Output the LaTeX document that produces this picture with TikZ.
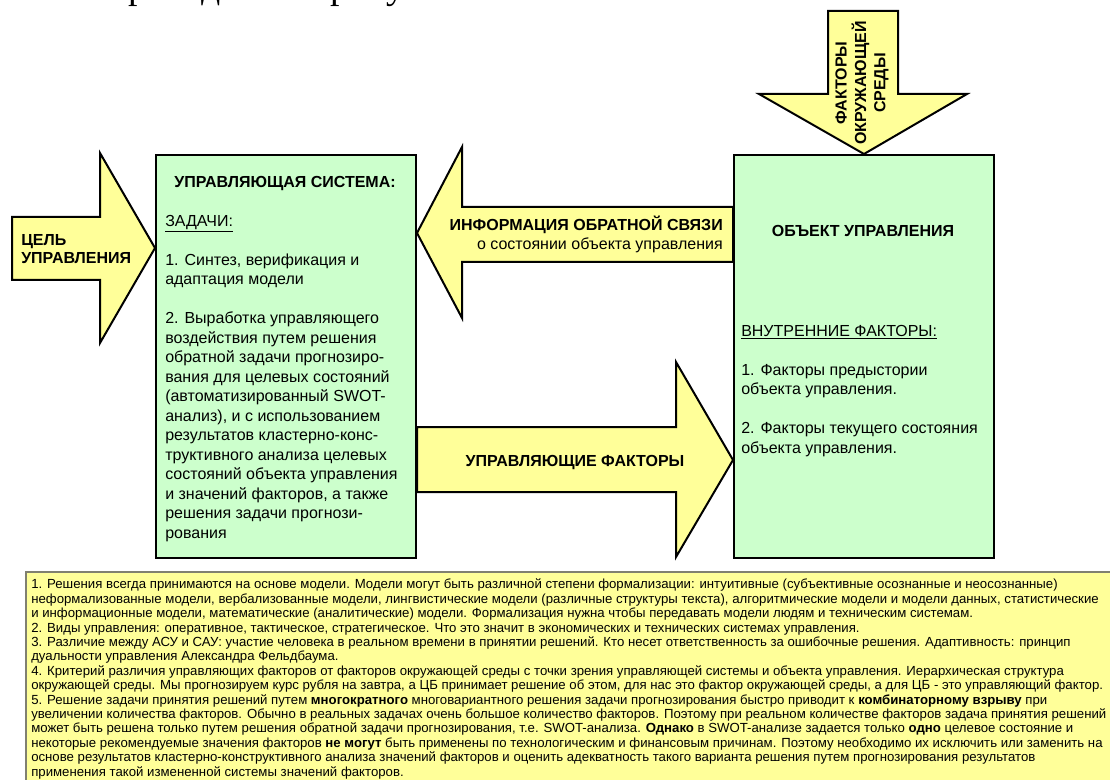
\documentclass[tikz,border=0pt]{standalone}
\usepackage{fontspec}
\setmainfont{Liberation Sans}
\newfontfamily\pageserif{Liberation Serif}
\usetikzlibrary{positioning}

\definecolor{boxgreen}{RGB}{204,255,204}
\definecolor{arrowyellow}{RGB}{255,255,153}
\definecolor{noteedge}{RGB}{128,128,112}

\tikzset{
  block/.style={draw, line width=1.5pt, fill=boxgreen, inner sep=0pt,
    minimum width=195pt, minimum height=302pt, anchor=north west},
  bigarrow/.style={draw, line width=1.5pt, fill=arrowyellow, line join=miter},
  boxtitle/.style={inner sep=0pt, font=\bfseries\fontsize{12}{14.6}\selectfont},
  boxtext/.style={align=left, inner sep=0pt, font=\fontsize{12}{14.6}\selectfont},
  notebox/.style={draw=noteedge, line width=1pt, fill=arrowyellow},
}

\begin{document}
\begin{tikzpicture}[x=0.75pt, y=-0.75pt]
	\useasboundingbox (0,0) rectangle (1110,780);
	\clip (0,0) rectangle (1110,780);
	
	% last line of the page above, only its tail shows
	\node[anchor=base west, inner sep=0pt, font=\pageserif\fontsize{28.4}{30}\selectfont] (pageline) at (108,-1) {приведена на рисунке};
	
	\node[block] (sys) at (155,154) {};
	\node[block] (obj) at (733,154) {};
	
	\draw[bigarrow] (12,217) -- (100,217) -- (100,153) -- (sys.west |- 0,248) -- (100,343) -- (100,280) -- (12,280) -- cycle;
	\draw[bigarrow] (obj.west |- 0,207) -- (462,207) -- (462,147) -- (sys.east |- 0,233) -- (462,318) -- (462,262) -- (obj.west |- 0,262) -- cycle;
	\draw[bigarrow] (sys.east |- 0,427) -- (676,427) -- (676,362) -- (obj.west |- 0,460) -- (676,557) -- (676,492) -- (sys.east |- 0,492) -- cycle;
	\draw[bigarrow] (828,11) -- (898,11) -- (898,94) -- (967,94) -- (obj.north |- 0,154) -- (759,94) -- (828,94) -- cycle;
	
	\node[boxtitle, align=left, anchor=base west, font=\bfseries\fontsize{12}{13.5}\selectfont] (goal) at (21,264) {ЦЕЛЬ\\УПРАВЛЕНИЯ};
	\node[boxtitle, align=center, rotate=90] (environment) at (862,83) {ФАКТОРЫ\\ОКРУЖАЮЩЕЙ\\СРЕДЫ};
	\node[boxtext, align=right, anchor=base east] (feedback) at (723,250) {\textbf{ИНФОРМАЦИЯ ОБРАТНОЙ СВЯЗИ}\\о состоянии объекта управления};
	\node[boxtitle, anchor=base] (control) at (575,466) {УПРАВЛЯЮЩИЕ ФАКТОРЫ};
	
	\node[boxtitle, anchor=base] (systitle) at (285,188) {УПРАВЛЯЮЩАЯ СИСТЕМА:};
	\node[boxtext, anchor=base west] (systasks) at (165,538) {\underline{ЗАДАЧИ:}\\[14.6pt]
		1. Синтез, верификация и\\
		адаптация модели\\[14.6pt]
		2. Выработка управляющего\\
		воздействия путем решения\\
		обратной задачи прогнозиро-\\
		вания для целевых состояний\\
		(автоматизированный SWOT-\\
		анализ), и с использованием\\
		результатов кластерно-конс-\\
		труктивного анализа целевых\\
		состояний объекта управления\\
		и значений факторов, а также\\
		решения задачи прогнози-\\
		рования};
	
	\node[boxtitle, anchor=base] (objtitle) at (863,237) {ОБЪЕКТ УПРАВЛЕНИЯ};
	\node[boxtext, anchor=base west] (objfactors) at (741,453) {\underline{ВНУТРЕННИЕ ФАКТОРЫ:}\\[14.6pt]
		1. Факторы предыстории\\
		объекта управления.\\[14.6pt]
		2. Факторы текущего состояния\\
		объекта управления.};
	
	% notes under the figure
	\draw[notebox] (26,572) rectangle (1130,800);
	\node[boxtext, anchor=base west, font=\fontsize{9.9}{10.8}\selectfont] (notes) at (31,776) {%
		1. Решения всегда принимаются на основе модели. Модели могут быть различной степени формализации: интуитивные (субъективные осознанные и неосознанные)\\
		неформализованные модели, вербализованные модели, лингвистические модели (различные структуры текста), алгоритмические модели и модели данных, статистические\\
		и информационные модели, математические (аналитические) модели. Формализация нужна чтобы передавать модели людям и техническим системам.\\
		2. Виды управления: оперативное, тактическое, стратегическое. Что это значит в экономических и технических системах управления.\\
		3. Различие между АСУ и САУ: участие человека в реальном времени в принятии решений. Кто несет ответственность за ошибочные решения. Адаптивность: принцип\\
		дуальности управления Александра Фельдбаума.\\
		4. Критерий различия управляющих факторов от факторов окружающей среды с точки зрения управляющей системы и объекта управления. Иерархическая структура\\
		окружающей среды. Мы прогнозируем курс рубля на завтра, а ЦБ принимает решение об этом, для нас это фактор окружающей среды, а для ЦБ - это управляющий фактор.\\
		5. Решение задачи принятия решений путем \textbf{многократного} многовариантного решения задачи прогнозирования быстро приводит к \textbf{комбинаторному взрыву} при\\
		увеличении количества факторов. Обычно в реальных задачах очень большое количество факторов. Поэтому при реальном количестве факторов задача принятия решений\\
		может быть решена только путем решения обратной задачи прогнозирования, т.е. SWOT-анализа. \textbf{Однако} в SWOT-анализе задается только \textbf{одно} целевое состояние и\\
		некоторые рекомендуемые значения факторов \textbf{не могут} быть применены по технологическим и финансовым причинам. Поэтому необходимо их исключить или заменить на\\
		основе результатов кластерно-конструктивного анализа значений факторов и оценить адекватность такого варианта решения путем прогнозирования результатов\\
		применения такой измененной системы значений факторов.};
\end{tikzpicture}
\end{document}
